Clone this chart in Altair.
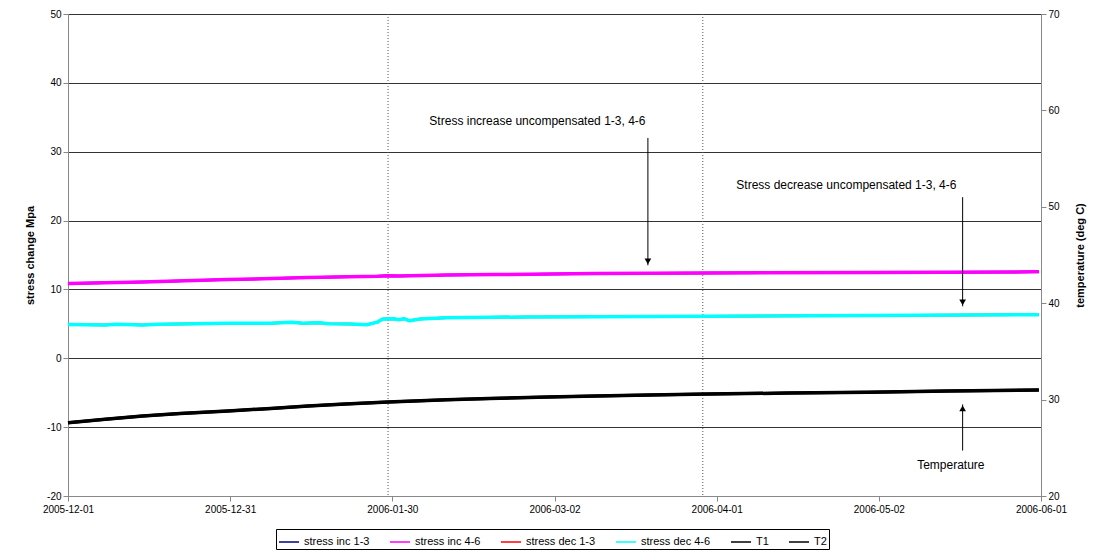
import altair as alt
import pandas as pd

# ---------------- data ----------------
inc_dates = ["2005-12-01", "2005-12-15", "2005-12-31", "2006-01-15", "2006-01-28",
             "2006-01-30", "2006-02-01", "2006-02-10", "2006-02-19", "2006-03-10",
             "2006-03-31", "2006-04-30", "2006-05-31", "2006-06-01"]
inc13_vals = [10.85, 11.08, 11.43, 11.72, 11.9, 12.0, 11.95, 12.1, 12.15, 12.3,
              12.4, 12.45, 12.55, 12.55]
inc46_vals = [10.85, 11.08, 11.43, 11.72, 11.9, 12.0, 11.95, 12.1, 12.15, 12.3,
              12.4, 12.45, 12.55, 12.55]

dec_dates = ["2005-12-01", "2005-12-08", "2005-12-10", "2005-12-15", "2005-12-18",
             "2005-12-25", "2005-12-31", "2006-01-08", "2006-01-12", "2006-01-14",
             "2006-01-17", "2006-01-19", "2006-01-23", "2006-01-26", "2006-01-28",
             "2006-01-29", "2006-01-31", "2006-02-01", "2006-02-02", "2006-02-03",
             "2006-02-05", "2006-02-10", "2006-02-25", "2006-03-10", "2006-03-31",
             "2006-04-30", "2006-05-31", "2006-06-01"]
dec13_vals = [4.9, 4.85, 4.95, 4.82, 4.95, 5.0, 5.08, 5.1, 5.22, 5.1, 5.15, 5.0, 4.97,
              4.88, 5.25, 5.7, 5.75, 5.6, 5.75, 5.45, 5.7, 5.9, 6.0, 6.05, 6.12, 6.2,
              6.34, 6.34]
dec46_vals = [4.9, 4.85, 4.95, 4.82, 4.95, 5.0, 5.08, 5.1, 5.22, 5.1, 5.15, 5.0, 4.97,
              4.88, 5.25, 5.7, 5.75, 5.6, 5.75, 5.45, 5.7, 5.9, 6.0, 6.05, 6.12, 6.2,
              6.34, 6.34]

temp_dates = ["2005-12-01", "2005-12-08", "2005-12-15", "2005-12-22", "2005-12-31",
              "2006-01-08", "2006-01-15", "2006-01-22", "2006-01-30", "2006-02-10",
              "2006-02-18", "2006-03-01", "2006-03-10", "2006-03-20", "2006-03-31",
              "2006-04-15", "2006-04-30", "2006-05-15", "2006-06-01"]
t1_vals = [27.6, 27.95, 28.3, 28.55, 28.82, 29.08, 29.34, 29.55, 29.75, 29.98,
           30.12, 30.27, 30.37, 30.47, 30.57, 30.68, 30.77, 30.88, 31.0]
t2_vals = [27.6, 27.95, 28.3, 28.55, 28.82, 29.08, 29.34, 29.55, 29.75, 29.98,
           30.12, 30.27, 30.37, 30.47, 30.57, 30.68, 30.77, 30.88, 31.0]

series_names = ["stress inc 1-3", "stress inc 4-6", "stress dec 1-3",
                "stress dec 4-6", "T1", "T2"]
series_colors = ["#000080", "#FF00FF", "#FF0000", "#00FFFF", "#000000", "#000000"]
series_widths = [2.5, 3.5, 2.5, 3.5, 3.0, 3.5]

marker_dates = ["2006-01-30T00:00", "2006-03-30T00:00"]

note_texts = ["Stress increase uncompensated 1-3, 4-6",
              "Stress decrease uncompensated 1-3, 4-6",
              "Temperature"]
note_dates = ["2006-02-27T00:00", "2006-04-25T22:00", "2006-05-15T12:00"]
note_vals = [34.45, 25.1, -15.5]

arrow_dates = ["2006-03-19T17:00", "2006-05-17T17:00", "2006-05-17T17:00"]
arrow_from = [32.0, 23.4, -13.4]
arrow_to = [13.5, 7.55, -6.7]
arrow_dir = ["down", "down", "up"]

# ---------------- frames ----------------
def iso(d):
    return (d + "T00:00:00Z") if len(d) == 10 else (d + ":00Z")

def frame(dates, vals, name):
    return pd.DataFrame({"date": [iso(d) for d in dates], "value": vals, "series": name})

stress = pd.concat([
    frame(inc_dates, inc13_vals, "stress inc 1-3"),
    frame(inc_dates, inc46_vals, "stress inc 4-6"),
    frame(dec_dates, dec13_vals, "stress dec 1-3"),
    frame(dec_dates, dec46_vals, "stress dec 4-6"),
], ignore_index=True)
temps = pd.concat([
    frame(temp_dates, t1_vals, "T1"),
    frame(temp_dates, t2_vals, "T2"),
], ignore_index=True)

markers = pd.DataFrame({"date": [iso(d) for d in marker_dates]})
notes = pd.DataFrame({"date": [iso(d) for d in note_dates], "value": note_vals, "text": note_texts})
arrows = pd.DataFrame({"date": [iso(d) for d in arrow_dates], "y1": arrow_from,
                       "y2": arrow_to, "dir": arrow_dir})

FONT = "Liberation Sans"

def dt(y, mo, d, h=0, mi=0):
    return alt.DateTime(year=y, month=mo, date=d, hours=h, minutes=mi, utc=True)

tick_vals = [dt(2005, 12, 1), dt(2005, 12, 31, 9, 36), dt(2006, 1, 30, 19, 12),
             dt(2006, 3, 2, 4, 48), dt(2006, 4, 1, 14, 24), dt(2006, 5, 2, 0, 0),
             dt(2006, 6, 1, 9, 36)]

x_enc = alt.X("date:T",
              scale=alt.Scale(type="utc", domain=[dt(2005, 12, 1), dt(2006, 6, 1, 9, 36)]),
              axis=alt.Axis(values=tick_vals, labelExpr="utcFormat(datum.value, '%Y-%m-%d')",
                            title=None, grid=False, tickSize=5, labelPadding=3,
                            labelFlush=False))

y_left = alt.Y("value:Q",
               scale=alt.Scale(domain=[-20, 50], nice=False, zero=False),
               axis=alt.Axis(values=list(range(-20, 51, 10)), title="stress change Mpa",
                             labelExpr="'' + datum.value",
                             grid=True, gridColor="#333333", gridWidth=1, tickSize=5,
                             titlePadding=11, orient="left"))

y_right = alt.Y("value:Q",
                scale=alt.Scale(domain=[20, 70], nice=False, zero=False),
                axis=alt.Axis(values=list(range(20, 71, 10)), title="temperature (deg C)",
                              labelExpr="'' + datum.value",
                              grid=False, tickSize=5, orient="right", titleAngle=270,
                              titlePadding=26))

color_enc = alt.Color("series:N",
                      scale=alt.Scale(domain=series_names, range=series_colors),
                      legend=alt.Legend(title=None, orient="none", direction="horizontal",
                                        legendX=208, legendY=515,
                                        symbolType="stroke", symbolStrokeWidth=1.5,
                                        symbolSize=400, labelFont=FONT, labelFontSize=11,
                                        labelColor="black", strokeColor="black",
                                        padding=2, columnPadding=17,
                                        labelLimit=200))

def series_layer(df, name, y):
    w = series_widths[series_names.index(name)]
    return (alt.Chart(df)
            .transform_filter(alt.datum.series == name)
            .mark_line(strokeWidth=w, strokeJoin="round")
            .encode(x=x_enc, y=y, color=color_enc))

stress_layers = [series_layer(stress, n, y_left) for n in series_names[:4]]

rules = alt.Chart(markers).mark_rule(color="#555555", strokeDash=[1, 2], strokeWidth=1).encode(x="date:T")

arrow_lines = alt.Chart(arrows).mark_rule(color="black", strokeWidth=1).encode(
    x="date:T", y=alt.Y("y1:Q"), y2="y2:Q")
heads_down = (alt.Chart(arrows).transform_filter(alt.datum.dir == "down")
              .mark_point(shape="triangle-down", filled=True, size=45, color="black",
                          opacity=1, yOffset=-4)
              .encode(x="date:T", y="y2:Q"))
heads_up = (alt.Chart(arrows).transform_filter(alt.datum.dir == "up")
            .mark_point(shape="triangle-up", filled=True, size=45, color="black",
                        opacity=1, yOffset=4)
            .encode(x="date:T", y="y2:Q"))

texts = alt.Chart(notes).mark_text(font=FONT, fontSize=12, color="black",
                                   align="center", baseline="middle").encode(
    x="date:T", y="value:Q", text="text:N")

left = alt.layer(rules, *stress_layers, arrow_lines, heads_down, heads_up, texts)

temp_layers = [series_layer(temps, n, y_right) for n in series_names[4:]]
right = alt.layer(*temp_layers)

chart = (alt.layer(left, right)
         .resolve_scale(y="independent")
         .properties(width=973, height=482,
                     autosize=alt.AutoSizeParams(type="none"),
                     padding={"left": 60, "top": 6, "right": 47, "bottom": 56})
         .configure_view(stroke=None)
         .configure_axis(labelFont=FONT, labelFontSize=11, labelColor="black",
                         titleFont=FONT, titleFontSize=11, titleFontWeight="bold",
                         titleColor="black", domainColor="black", tickColor="black",
                         domainWidth=1)
         .configure(background="white"))

chart.save("out.html", embed_options={"renderer": "svg", "actions": False})
